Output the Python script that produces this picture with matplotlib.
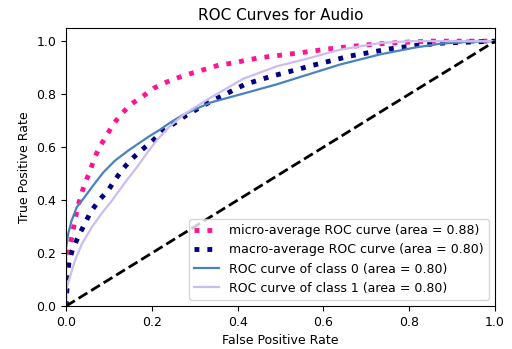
import matplotlib
matplotlib.use("Agg")
import matplotlib.pyplot as plt

# ROC curve points
micro_fpr = [0.0, 0.002, 0.005, 0.007, 0.014, 0.019, 0.026, 0.034, 0.044, 0.056, 0.066, 0.079, 0.095,
             0.11, 0.13, 0.153, 0.18, 0.205, 0.235, 0.266, 0.295, 0.326, 0.357, 0.387, 0.42,
             0.45, 0.5, 0.545, 0.608, 0.669, 0.73, 0.79, 0.855, 1.0]
micro_tpr = [0.0, 0.117, 0.162, 0.214, 0.263, 0.31, 0.365, 0.414, 0.464, 0.509, 0.559, 0.603, 0.645,
             0.687, 0.727, 0.764, 0.793, 0.823, 0.846, 0.865, 0.88, 0.895, 0.91, 0.917, 0.928,
             0.937, 0.947, 0.956, 0.97, 0.981, 0.99, 0.996, 1.0, 1.0]

macro_fpr = [0.0, 0.004, 0.007, 0.016, 0.03, 0.044, 0.058, 0.078, 0.099, 0.114, 0.132, 0.153, 0.176,
             0.2, 0.224, 0.28, 0.331, 0.363, 0.417, 0.48, 0.539, 0.573, 0.662, 0.755, 0.817,
             0.88, 1.0]
macro_tpr = [0.0, 0.12, 0.17, 0.218, 0.267, 0.312, 0.357, 0.401, 0.439, 0.476, 0.517, 0.555, 0.589,
             0.621, 0.659, 0.72, 0.767, 0.793, 0.837, 0.868, 0.893, 0.908, 0.944, 0.971, 0.984,
             0.993, 1.0]

class0_fpr = [0.0, 0.0, 0.005, 0.013, 0.025, 0.044, 0.064, 0.087, 0.114, 0.145, 0.172, 0.196, 0.219,
              0.242, 0.273, 0.336, 0.413, 0.491, 0.56, 0.639, 0.732, 0.81, 0.87, 0.93, 1.0]
class0_tpr = [0.0, 0.218, 0.273, 0.323, 0.373, 0.413, 0.457, 0.505, 0.549, 0.587, 0.617, 0.643, 0.666,
              0.692, 0.722, 0.768, 0.802, 0.837, 0.872, 0.912, 0.95, 0.975, 0.99, 0.997, 1.0]

class1_fpr = [0.0, 0.0, 0.009, 0.021, 0.037, 0.06, 0.087, 0.106, 0.122, 0.141, 0.165, 0.188, 0.211,
              0.24, 0.277, 0.336, 0.413, 0.491, 0.56, 0.639, 0.732, 0.8, 1.0]
class1_tpr = [0.0, 0.06, 0.11, 0.173, 0.235, 0.298, 0.358, 0.396, 0.432, 0.474, 0.524, 0.576, 0.625,
              0.676, 0.726, 0.786, 0.858, 0.905, 0.933, 0.968, 0.993, 1.0, 1.0]

labels = ["micro-average ROC curve (area = 0.88)",
          "macro-average ROC curve (area = 0.80)",
          "ROC curve of class 0 (area = 0.80)",
          "ROC curve of class 1 (area = 0.80)"]

fig = plt.figure(figsize=(5.12, 3.49), dpi=100)
ax = fig.add_axes([0.129, 0.123, 0.838, 0.797])

ax.plot(micro_fpr, micro_tpr, color="deeppink", linestyle=":", linewidth=3.5, label=labels[0])
ax.plot(macro_fpr, macro_tpr, color="navy", linestyle=":", linewidth=3.5, label=labels[1])
ax.plot(class0_fpr, class0_tpr, color="#4a82bd", linewidth=1.6, label=labels[2])
ax.plot(class1_fpr, class1_tpr, color="#cbbcf2", linewidth=1.6, label=labels[3])
ax.plot([0, 1], [0, 1], "k--", linewidth=2)

ax.set_xlim(0.0, 1.0)
ax.set_ylim(0.0, 1.05)
ax.set_title("ROC Curves for Audio", fontsize=11)
ax.set_xlabel("False Positive Rate", fontsize=9)
ax.set_ylabel("True Positive Rate", fontsize=9)
ax.tick_params(labelsize=9)
ax.legend(loc="lower right", fontsize=9)

fig.savefig("out.png", dpi=100)
